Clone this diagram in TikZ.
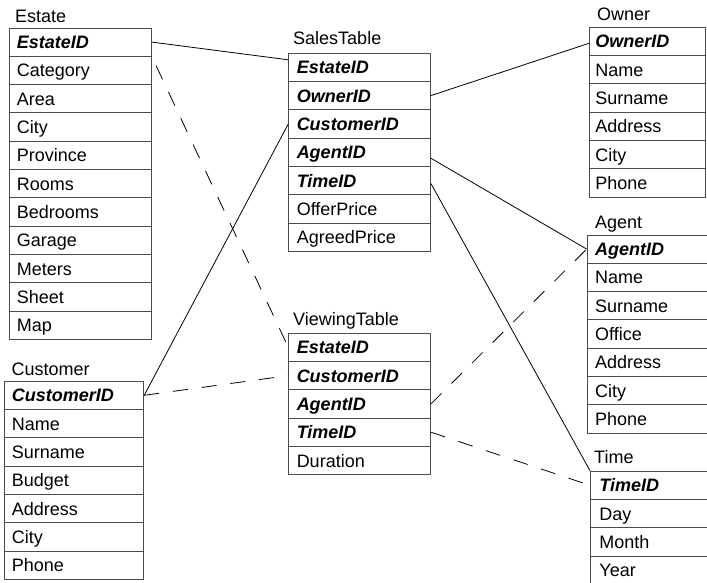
\documentclass[tikz,border=0pt]{standalone}
\usepackage{fontspec}
\setmainfont{Liberation Sans}
\newcommand\kf[1]{\textbf{\textit{#1}}}
\newcommand\dbtable[6]{%
  \foreach \txt [count=\i] in {#6} {
    \node[cell] (#1\i) at (#2, {#3+(\i-1)*28.3}) {\makebox[#4pt][l]{\hspace{#5pt}\txt}};
  }%
}
\begin{document}
\begin{tikzpicture}[x=1pt,y=-1pt,
  font=\fontsize{18}{20}\selectfont,
  cell/.style={draw=black!70, line width=0.9pt, anchor=north west, minimum height=28.3pt,
    inner sep=0pt, text height=13pt, text depth=0pt},
  ttl/.style={anchor=base west, inner sep=0pt},
  conn/.style={draw=black, line width=0.8pt},
  dconn/.style={conn, dash pattern=on 15pt off 14pt}]
\useasboundingbox (0,0) rectangle (707,582);

% Estate
\node[ttl] (etitle) at (15,22.7) {Estate};
\dbtable{e}{9}{27.5}{142}{7.5}{\kf{EstateID},Category,Area,City,Province,Rooms,Bedrooms,Garage,Meters,Sheet,Map}

% SalesTable
\node[ttl] (stitle) at (293,44) {SalesTable};
\dbtable{s}{288.3}{52.7}{141.7}{8}{\kf{EstateID},\kf{OwnerID},\kf{CustomerID},\kf{AgentID},\kf{TimeID},OfferPrice,AgreedPrice}

% Owner
\node[ttl] (otitle) at (597,20.7) {Owner};
\dbtable{o}{589}{26.7}{116}{6}{\kf{OwnerID},Name,Surname,Address,City,Phone}

% Customer
\node[ttl] (ctitle) at (11.5,375) {Customer};
\dbtable{c}{4}{380.7}{139.3}{7.5}{\kf{CustomerID},Name,Surname,Budget,Address,City,Phone}

% ViewingTable
\node[ttl] (vtitle) at (293,325) {ViewingTable};
\dbtable{v}{288.3}{332.7}{141.7}{8}{\kf{EstateID},\kf{CustomerID},\kf{AgentID},\kf{TimeID},Duration}

% Agent
\node[ttl] (atitle) at (595,228) {Agent};
\dbtable{a}{586.7}{234.5}{122}{8}{\kf{AgentID},Name,Surname,Office,Address,City,Phone}

% Time
\node[ttl] (ttitle) at (594,463.3) {Time};
\dbtable{t}{590}{470.7}{119}{9}{\kf{TimeID},Day,Month,Year}

% solid connectors (SalesTable)
\draw[conn] (e1.east) -- ([yshift=7.5pt]s1.west);
\draw[conn] (s2.east) -- ([yshift=-2pt]o1.west);
\draw[conn] ([yshift=-6pt]s4.east) -- (a1.west);
\draw[conn] ([yshift=-3pt]s5.east) -- (t1.north west);
\draw[conn] (c1.east) -- (s3.west);

% dashed connectors (ViewingTable)
\draw[dconn, dash phase=19pt] (e1.south east) -- (v1.west);
\draw[dconn] (c1.east) -- (v2.west);
\draw[dconn] (v3.east) -- (a1.west);
\draw[dconn] (v4.east) -- (t1.west);
\end{tikzpicture}
\end{document}
